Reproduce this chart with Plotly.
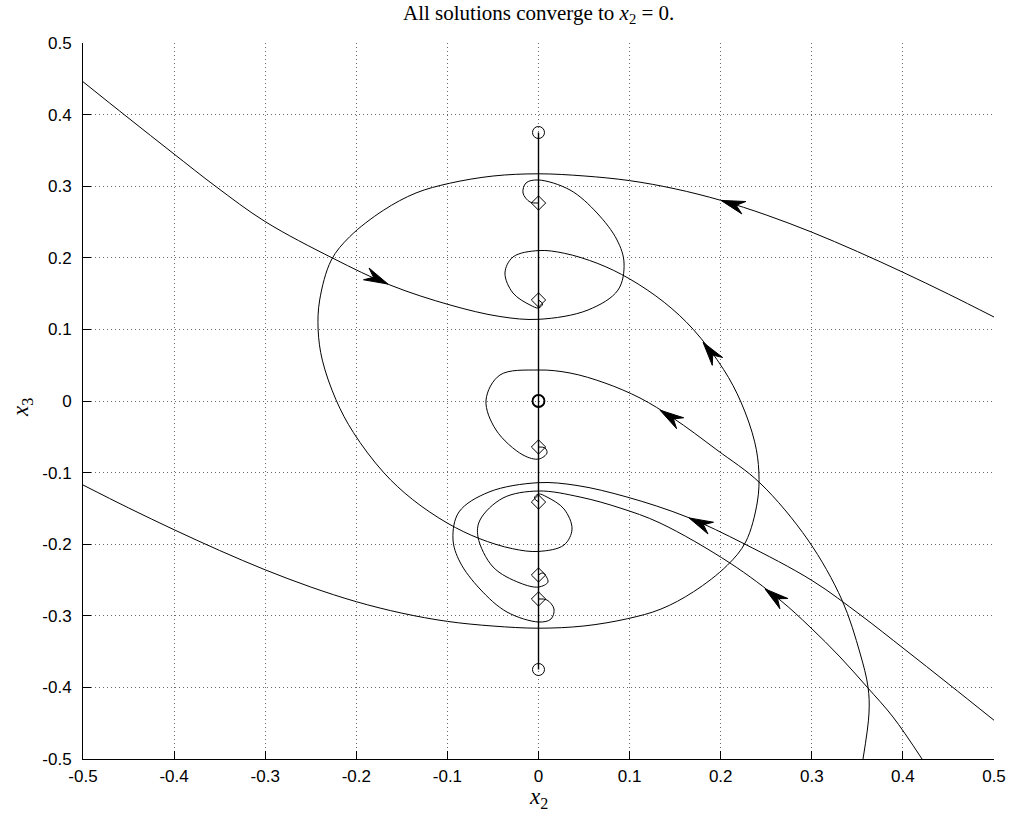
import numpy as np
import plotly.graph_objects as go

# ---------------- data ----------------
# trajectory 1: enters top-left, ends at diamond x3 = 0.277
t1_x = [-0.5, -0.4506, -0.4012, -0.3540, -0.3002, -0.2256, -0.1630, -0.0971, -0.0423, 0.0005,
        0.0543, 0.0873, 0.0939, 0.0862, 0.0642, 0.0346, -0.0005, -0.0137, -0.0170, -0.0093, 0.0]
t1_y = [0.4459, 0.3957, 0.3461, 0.2994, 0.2507, 0.1993, 0.1620, 0.1341, 0.1180, 0.1141,
        0.1271, 0.1550, 0.1927, 0.2249, 0.2626, 0.2947, 0.3087, 0.3045, 0.2905, 0.2779, 0.2765]

# trajectory 2: enters right edge at 0.117, ends at diamond x3 = -0.141
t2_x = [0.5, 0.45, 0.4, 0.35, 0.3, 0.25, 0.2, 0.15, 0.1, 0.05, 0.0,
        -0.0499, -0.0975, -0.1344, -0.1703, -0.2072, -0.2274, -0.2402, -0.2419, -0.2373, -0.2223,
        -0.2032, -0.1701, -0.1380, -0.0998, -0.0652, -0.0284, 0.0, 0.0280, 0.0368, 0.0280, 0.0093,
        0.0, -0.0045, 0.0]
t2_y = [0.1173, 0.1493, 0.1798, 0.2088, 0.2358, 0.2598, 0.2803, 0.2963, 0.3078, 0.3143, 0.3173,
        0.3142, 0.3041, 0.2906, 0.2663, 0.2295, 0.1969, 0.1411, 0.0992, 0.0571, 0.0017,
        -0.0440, -0.0997, -0.1378, -0.1707, -0.1920, -0.2063, -0.2101, -0.2011, -0.1788, -0.1508, -0.1341,
        -0.1299, -0.1355, -0.1411]

# trajectory 3: enters bottom at 0.356, ends at diamond x3 = -0.064
t3_x = [0.3562, 0.3628, 0.3617, 0.3529, 0.3331, 0.2958, 0.2431, 0.1959, 0.1476, 0.1114, 0.0730,
        0.0346, -0.0005, -0.0423, -0.0576, -0.0466, -0.0170, 0.0005, 0.0093, 0.0071, 0.0]
t3_y = [-0.5, -0.4358, -0.3994, -0.3520, -0.2779, -0.1941, -0.1145, -0.0684, -0.0237, 0.0042, 0.0251,
        0.0391, 0.0433, 0.0363, 0.0014, -0.0405, -0.0754, -0.0810, -0.0726, -0.0656, -0.0642]

# trajectory 4: enters right edge at -0.446, ends at diamond x3 = -0.277
t4_x = [0.5, 0.4506, 0.4012, 0.3540, 0.3002, 0.2256, 0.1630, 0.0971, 0.0423, -0.0005,
        -0.0543, -0.0873, -0.0939, -0.0862, -0.0642, -0.0346, 0.0005, 0.0137, 0.0170, 0.0093, 0.0]
t4_y = [-0.4459, -0.3957, -0.3461, -0.2994, -0.2507, -0.1993, -0.1620, -0.1341, -0.1180, -0.1141,
        -0.1271, -0.1550, -0.1927, -0.2249, -0.2626, -0.2947, -0.3087, -0.3045, -0.2905, -0.2779, -0.2765]

# trajectory 5: enters bottom at 0.421, ends at diamond x3 = -0.243
t5_x = [0.4210, 0.3891, 0.3606, 0.3310, 0.2980, 0.2651, 0.2102, 0.1334, 0.0895, 0.0456, 0.0,
        -0.0390, -0.0642, -0.0664, -0.0499, -0.0203, 0.0, 0.0104, 0.0049, 0.0]
t5_y = [-0.5, -0.4413, -0.3994, -0.3575, -0.3156, -0.2779, -0.2263, -0.1704, -0.1494, -0.1341, -0.1257,
        -0.1355, -0.1662, -0.1899, -0.2318, -0.2542, -0.2598, -0.2528, -0.2402, -0.2430]

# trajectory 6: enters left edge at -0.117, ends at diamond x3 = 0.141
t6_x = [-0.5, -0.45, -0.4, -0.35, -0.3, -0.25, -0.2, -0.15, -0.1, -0.05, 0.0,
        0.0499, 0.0975, 0.1344, 0.1703, 0.2072, 0.2274, 0.2402, 0.2419, 0.2373, 0.2223,
        0.2032, 0.1701, 0.1380, 0.0998, 0.0652, 0.0284, 0.0, -0.0280, -0.0368, -0.0280, -0.0093,
        0.0, 0.0045, 0.0]
t6_y = [-0.1173, -0.1493, -0.1798, -0.2088, -0.2358, -0.2598, -0.2803, -0.2963, -0.3078, -0.3143, -0.3173,
        -0.3142, -0.3041, -0.2906, -0.2663, -0.2295, -0.1969, -0.1411, -0.0992, -0.0571, -0.0017,
        0.0440, 0.0997, 0.1378, 0.1707, 0.1920, 0.2063, 0.2101, 0.2011, 0.1788, 0.1508, 0.1341,
        0.1299, 0.1355, 0.1411]

trajectories = [(t1_x, t1_y), (t2_x, t2_y), (t3_x, t3_y), (t4_x, t4_y), (t5_x, t5_y), (t6_x, t6_y)]

# invariant line x2 = 0 and markers
axis_line_y = [0.375, -0.375]
start_circles_y = [0.375, 0.0, -0.375]
end_diamonds_y = [0.2765, 0.1411, -0.0642, -0.1411, -0.2430, -0.2765]

# arrows: tip point and a point just behind it on the curve
arrow_tip_x = [-0.1652, 0.2003, 0.1806, 0.1334, 0.1652, 0.2486]
arrow_tip_y = [0.1633, 0.2802, 0.0820, -0.0128, -0.1633, -0.2624]
arrow_tail_x = [-0.1904, 0.2267, 0.1948, 0.1564, 0.1904, 0.2706]
arrow_tail_y = [0.1783, 0.2694, 0.0581, -0.0318, -0.1783, -0.2842]

tick_vals = [-0.5, -0.4, -0.3, -0.2, -0.1, 0.0, 0.1, 0.2, 0.3, 0.4, 0.5]
tick_text = ["-0.5", "-0.4", "-0.3", "-0.2", "-0.1", "0", "0.1", "0.2", "0.3", "0.4", "0.5"]

# ---------------- figure ----------------
W, H = 1011, 813
ML, MR, MT, MB = 83, 17, 43, 54
PW, PH = W - ML - MR, H - MT - MB
sx, sy = PW / 1.0, PH / 1.0   # pixels per data unit

fig = go.Figure()

for tx, ty in trajectories:
    fig.add_trace(go.Scatter(x=tx, y=ty, mode="lines",
                             line=dict(color="black", width=1, shape="spline", smoothing=1.0),
                             hoverinfo="skip", showlegend=False))

fig.add_trace(go.Scatter(x=[0, 0], y=axis_line_y, mode="lines",
                         line=dict(color="black", width=1.4), showlegend=False))
fig.add_trace(go.Scatter(x=[0] * len(start_circles_y), y=start_circles_y, mode="markers",
                         marker=dict(symbol="circle-open", size=12, color="black", line=dict(width=1)),
                         showlegend=False))
fig.add_trace(go.Scatter(x=[0], y=[start_circles_y[1]], mode="markers",
                         marker=dict(symbol="circle-open", size=12, color="black", line=dict(width=1.8)),
                         showlegend=False))
fig.add_trace(go.Scatter(x=[0] * len(end_diamonds_y), y=end_diamonds_y, mode="markers",
                         marker=dict(symbol="diamond-open", size=11, color="black", line=dict(width=1)),
                         showlegend=False))

# arrowheads (notched, filled) built in data space from tip/tail
L, Wd, N = 24.0, 6.5, 16.0
for xt, yt, xb, yb in zip(arrow_tip_x, arrow_tip_y, arrow_tail_x, arrow_tail_y):
    dx, dy = (xt - xb) * sx, (yt - yb) * sy
    nrm = np.hypot(dx, dy)
    dx, dy = dx / nrm, dy / nrm
    nx, ny = -dy, dx
    pts = [(0, 0), (-L * dx + Wd * nx, -L * dy + Wd * ny), (-N * dx, -N * dy),
           (-L * dx - Wd * nx, -L * dy - Wd * ny), (0, 0)]
    px = [xt + p[0] / sx for p in pts]
    py = [yt + p[1] / sy for p in pts]
    fig.add_trace(go.Scatter(x=px, y=py, mode="lines", fill="toself", fillcolor="black",
                             line=dict(color="black", width=1), hoverinfo="skip", showlegend=False))

axis_common = dict(range=[-0.5, 0.5], tickvals=tick_vals, ticktext=tick_text,
                   showgrid=True, gridcolor="#6a6a6a", griddash="1px,3px", gridwidth=1,
                   zeroline=False, showline=True, linecolor="black", linewidth=1,
                   ticks="inside", ticklen=8, tickcolor="black", tickwidth=1,
                   tickfont=dict(family="Liberation Sans, Arial", size=17, color="black"))

fig.update_layout(
    width=W, height=H,
    margin=dict(l=ML, r=MR, t=MT, b=MB, autoexpand=False),
    paper_bgcolor="white", plot_bgcolor="white",
    xaxis=dict(**axis_common, ticklabelstandoff=2),
    yaxis=dict(**axis_common, ticklabelstandoff=7),
    showlegend=False,
)

serif = "Liberation Serif, Times New Roman, serif"
fig.add_annotation(text="All solutions converge to <i>x</i><sub>2</sub> = 0.",
                   xref="paper", yref="paper", x=0.5, y=1 + (MT - 14) / PH,
                   xanchor="center", yanchor="middle", showarrow=False,
                   font=dict(family=serif, size=21, color="black"))
fig.add_annotation(text="<i>x</i><sub>2</sub>",
                   xref="paper", yref="paper", x=0.5, y=-(798 - (H - MB)) / PH,
                   xanchor="center", yanchor="middle", showarrow=False,
                   font=dict(family=serif, size=23, color="black"))
fig.add_annotation(text="<i>x</i><sub>3</sub>",
                   xref="paper", yref="paper", x=-(ML - 22) / PW, y=(H - MB - 408) / PH,
                   xanchor="center", yanchor="middle", showarrow=False, textangle=-90,
                   font=dict(family=serif, size=23, color="black"))

fig.write_html("out.html", config={"displayModeBar": False},
               post_script="document.body.style.margin='0px';document.body.style.overflow='hidden';")
